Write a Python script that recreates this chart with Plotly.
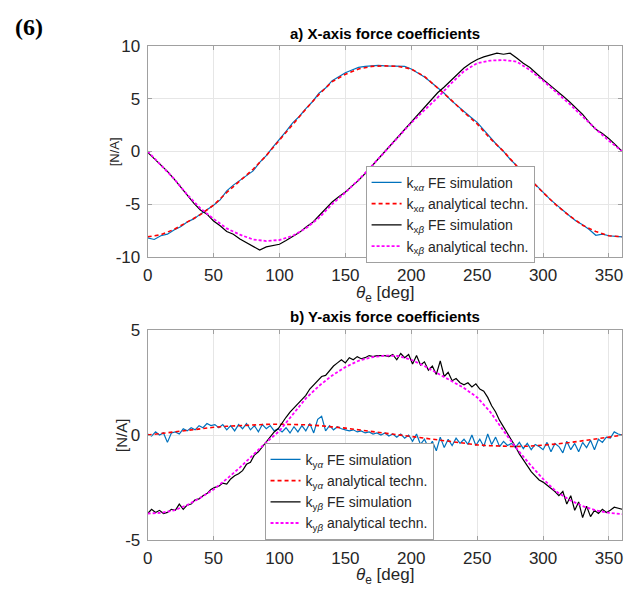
import numpy as np
import plotly.graph_objects as go

# ---------------- data ----------------
theta_fe_top = np.arange(0, 361, 5)      # FE samples, top panel
theta_an = np.arange(0, 361, 10)         # analytical samples
theta_fe_bot = np.arange(0, 361, 3)      # FE samples, bottom panel

kxa_fe = [-8.2, -8.35, -8.0, -7.85, -7.45, -7.15, -6.7, -6.4, -5.95, -5.55,
          -5.1, -4.6, -3.75, -3.2, -2.75, -2.3, -1.85, -1.05, -0.4, 0.4,
          1.1, 1.9, 2.7, 3.3, 4.05, 4.7, 5.5, 6.0, 6.7, 7.1,
          7.45, 7.7, 7.95, 8.05, 8.1, 8.15, 8.1, 8.1, 8.05, 8.05,
          7.8, 7.45, 7.05, 6.55, 6.0, 5.5, 4.85, 4.3, 3.75, 3.25,
          2.75, 2.0, 1.3, 0.6, 0.0, -0.75, -1.35, -2.0, -2.6, -3.25,
          -3.85, -4.5, -5.05, -5.6, -6.1, -6.6, -6.95, -7.4, -7.95, -7.85,
          -8.0, -8.05, -8.1]
kxa_an = [-8.1, -7.9, -7.4, -6.7, -6.0, -5.1, -3.9, -2.8, -1.7, -0.4,
          1.1, 2.6, 4.0, 5.4, 6.6, 7.3, 7.8, 8.05, 8.1, 8.05,
          7.8, 7.1, 6.0, 4.9, 3.7, 2.6, 1.2, 0.0, -1.4, -2.7,
          -3.9, -5.1, -6.1, -7.0, -7.6, -8.0, -8.1]
kxb_fe = [-0.1, -0.7, -1.25, -1.9, -2.6, -3.4, -4.2, -4.9, -5.55, -5.95,
          -6.6, -7.05, -7.6, -7.85, -8.3, -8.65, -8.95, -9.35, -9.05, -8.95,
          -8.8, -8.45, -8.05, -7.7, -7.2, -6.75, -6.1, -5.45, -4.8, -4.3,
          -3.85, -3.3, -2.75, -2.1, -1.4, -0.7, 0.05, 0.7, 1.35, 2.05,
          2.85, 3.5, 4.15, 4.85, 5.55, 6.1, 6.7, 7.3, 7.9, 8.35,
          8.7, 8.95, 9.15, 9.3, 9.2, 9.3, 8.85, 8.35, 7.95, 7.35,
          6.8, 6.3, 5.8, 5.25, 4.7, 4.1, 3.5, 2.75, 2.1, 1.7,
          1.2, 0.6, 0.0]
kxb_an = [0.0, -1.25, -2.6, -4.1, -5.4, -6.4, -7.3, -7.9, -8.35, -8.5,
          -8.4, -8.0, -7.3, -6.3, -5.0, -3.9, -2.7, -1.4, 0.0, 1.3,
          2.7, 3.9, 5.1, 6.4, 7.6, 8.35, 8.6, 8.65, 8.5, 7.7,
          6.7, 5.6, 4.5, 3.3, 2.1, 1.0, 0.0]

kya_fe = [0.05, -0.05, 0.15, 0.0, 0.1, -0.35, 0.1, 0.15, 0.05, 0.3,
          0.2, 0.35, 0.25, 0.45, 0.35, 0.55, 0.45, 0.5, 0.35, 0.5,
          0.25, 0.45, 0.2, 0.5, 0.3, 0.55, 0.25, 0.45, 0.15, 0.5,
          0.3, 0.45, 0.2, 0.3, 0.15, 0.35, 0.1, 0.4, 0.15, 0.45,
          0.2, 0.55, 0.1, 0.75, 0.9, 0.2, 0.45, 0.25, 0.4, 0.3,
          0.25, 0.2, 0.25, 0.15, 0.2, 0.1, 0.15, 0.05, 0.1, 0.0,
          0.1, -0.05, 0.05, -0.1, 0.05, -0.15, 0.0, -0.3, 0.05, -0.45,
          -0.2, -0.6, -0.3, -0.75, -0.1, -0.6, -0.2, -0.5, -0.15, -0.4,
          -0.2, -0.45, 0.0, -0.5, -0.2, -0.55, 0.05, -0.45, -0.1, -0.55,
          -0.3, -0.5, -0.4, -0.6, -0.35, -0.65, -0.4, -0.7, -0.45, -0.55,
          -0.7, -0.35, -0.8, -0.4, -0.55, -0.85, -0.3, -0.7, -0.4, -0.8,
          -0.35, -0.6, -0.25, -0.7, -0.2, -0.35, -0.1, -0.15, 0.15, 0.05,
          0.0]
kya_an = [0.0, 0.08, 0.16, 0.24, 0.31, 0.37, 0.42, 0.46, 0.49, 0.51,
          0.52, 0.51, 0.49, 0.45, 0.40, 0.33, 0.25, 0.17, 0.09, 0.02,
          -0.06, -0.15, -0.24, -0.33, -0.41, -0.47, -0.51, -0.54, -0.55, -0.53,
          -0.49, -0.43, -0.36, -0.28, -0.20, -0.10, 0.0]
kyb_fe = [-3.75, -3.55, -3.7, -3.6, -3.75, -3.7, -3.55, -3.6, -3.3, -3.55,
          -3.35, -3.3, -3.1, -3.05, -2.9, -2.8, -2.6, -2.5, -2.45, -2.3,
          -2.35, -2.1, -1.95, -1.85, -1.7, -1.4, -1.3, -0.95, -0.8, -0.55,
          -0.35, -0.05, 0.15, 0.3, 0.6, 0.85, 1.1, 1.3, 1.5, 1.75,
          1.9, 2.2, 2.4, 2.6, 2.8, 2.85, 3.1, 3.3, 3.45, 3.6,
          3.45, 3.7, 3.6, 3.75, 3.65, 3.7, 3.8, 3.75, 3.8, 3.8,
          3.8, 3.75, 3.85, 3.6, 3.9, 3.7, 3.85, 3.4, 3.8, 3.35,
          3.5, 3.1, 3.3, 2.9, 3.55, 2.8, 3.0, 2.6, 2.7, 2.5,
          2.4, 2.5, 2.3, 2.45, 2.2, 2.1, 1.8, 1.4, 1.1, 0.7,
          0.4, 0.1, -0.2, -0.55, -0.9, -1.2, -1.5, -1.75, -1.95, -2.15,
          -2.25, -2.4, -2.55, -2.7, -2.9, -2.7, -3.3, -2.9, -3.6, -3.2,
          -3.95, -3.4, -3.9, -3.6, -3.75, -3.55, -3.7, -3.6, -3.45, -3.5,
          -3.55]
kyb_an = [-3.75, -3.72, -3.6, -3.35, -3.0, -2.6, -2.1, -1.55, -0.95, -0.35,
          0.2, 1.0, 1.75, 2.35, 2.85, 3.25, 3.55, 3.72, 3.8, 3.78,
          3.6, 3.3, 2.95, 2.6, 2.25, 1.8, 1.1, 0.2, -0.65, -1.4,
          -2.1, -2.7, -3.1, -3.4, -3.6, -3.72, -3.78]

x_ticks = [0, 50, 100, 150, 200, 250, 300, 350]
y_ticks_top = [-10, -5, 0, 5, 10]
y_ticks_bot = [-5, 0, 5]

# ---------------- styling ----------------
BLUE = "#0072BD"
RED = "#FF0000"
MAG = "#FF00FF"
FONT = "Liberation Sans, Arial, sans-serif"
W, H = 640, 599

def px_x(p):
    return p / W

def px_y(p):
    return 1 - p / H

fig = go.Figure()

def add(x, y, name, color, dash, width, xa, ya, legend):
    fig.add_trace(go.Scatter(
        x=x, y=y, mode="lines", name=name,
        line=dict(color=color, dash=dash, width=width),
        xaxis=xa, yaxis=ya, legend=legend))

add(theta_fe_top, kxa_fe, "k<sub>x<i>α</i></sub> FE simulation", BLUE, "solid", 1.2, "x", "y", "legend")
add(theta_an, kxa_an, "k<sub>x<i>α</i></sub> analytical techn.", RED, "4px,3px", 1.6, "x", "y", "legend")
add(theta_fe_top, kxb_fe, "k<sub>x<i>β</i></sub> FE simulation", "black", "solid", 1.2, "x", "y", "legend")
add(theta_an, kxb_an, "k<sub>x<i>β</i></sub> analytical techn.", MAG, "3px,2px", 1.8, "x", "y", "legend")

add(theta_fe_bot, kya_fe, "k<sub>y<i>α</i></sub> FE simulation", BLUE, "solid", 1.2, "x2", "y2", "legend2")
add(theta_an, kya_an, "k<sub>y<i>α</i></sub> analytical techn.", RED, "4px,3px", 1.6, "x2", "y2", "legend2")
add(theta_fe_bot, kyb_fe, "k<sub>y<i>β</i></sub> FE simulation", "black", "solid", 1.2, "x2", "y2", "legend2")
add(theta_an, kyb_an, "k<sub>y<i>β</i></sub> analytical techn.", MAG, "3px,2px", 1.8, "x2", "y2", "legend2")

axis_common = dict(
    showline=True, linecolor="#a0a0a0", linewidth=1, mirror="ticks",
    ticks="inside", ticklen=4, tickcolor="#a0a0a0",
    showgrid=True, gridcolor="#e6e6e6", gridwidth=1, zeroline=False,
    tickfont=dict(family=FONT, size=17, color="#262626"),
)

xdom = [px_x(144), px_x(623)]
legend_common = dict(xanchor="left", yanchor="top",
                     bgcolor="white", bordercolor="#a0a0a0", borderwidth=1,
                     font=dict(family=FONT, size=14, color="#262626"),
                     itemwidth=30, tracegroupgap=0)
fig.update_layout(
    width=W, height=H,
    margin=dict(l=0, r=0, t=0, b=0),
    paper_bgcolor="white", plot_bgcolor="white",
    font=dict(family=FONT, color="#262626"),
    xaxis=dict(domain=xdom, anchor="y", range=[0, 360], tickvals=x_ticks,
               ticklabelstandoff=3, **axis_common),
    yaxis=dict(domain=[px_y(256), px_y(38)], anchor="x", range=[-10, 10],
               tickvals=y_ticks_top, ticktext=[str(v) for v in y_ticks_top],
               ticklabelstandoff=3, **axis_common),
    xaxis2=dict(domain=xdom, anchor="y2", range=[0, 360], tickvals=x_ticks,
                ticklabelstandoff=3, **axis_common),
    yaxis2=dict(domain=[px_y(548), px_y(332)], anchor="x2", range=[-5, 5],
                tickvals=y_ticks_bot, ticktext=[str(v) for v in y_ticks_bot],
                ticklabelstandoff=3, **axis_common),
    legend=dict(x=px_x(364), y=px_y(162), **legend_common),
    legend2=dict(x=px_x(262), y=px_y(448), **legend_common),
)

def ann(text, x, y, size, bold=False, family=FONT, angle=0, color="#262626"):
    fig.add_annotation(
        text=f"<b>{text}</b>" if bold else text,
        x=px_x(x), y=px_y(y), xref="paper", yref="paper",
        showarrow=False, textangle=angle,
        font=dict(family=family, size=size, color=color),
        xanchor="center", yanchor="middle")

ann("(6)", 24, 19, 24, bold=True, family="Liberation Serif, Times New Roman, serif", color="black")
ann("a) X-axis force coefficients", 384, 25, 15, bold=True, color="black")
ann("b) Y-axis force coefficients", 384, 318, 15, bold=True, color="black")
ann("[N/A]", 110, 147, 13, angle=-90)
ann("[N/A]", 117, 440, 15, angle=-90)
ann("<i>θ</i><sub>e</sub> [deg]", 384, 294, 17)
ann("<i>θ</i><sub>e</sub> [deg]", 384, 586, 17)

fig.write_html("out.html")
